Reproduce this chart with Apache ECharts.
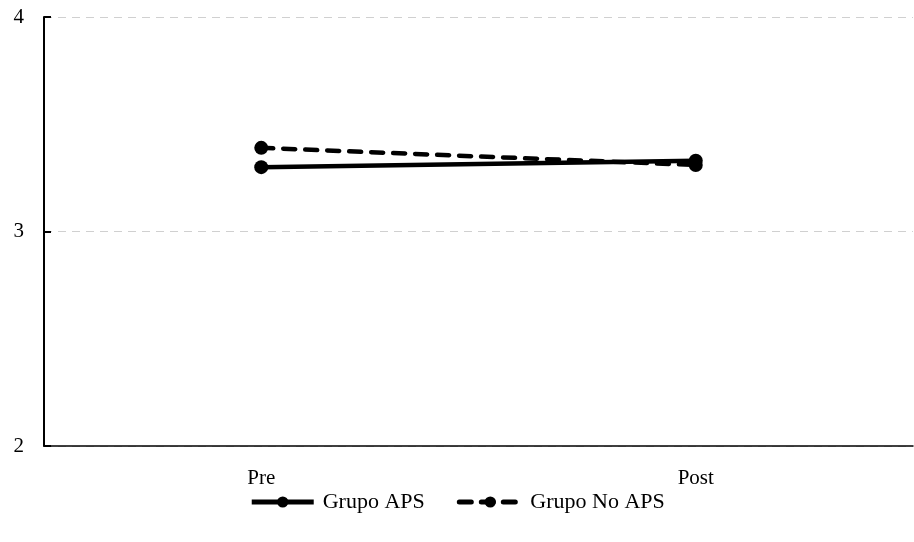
<!DOCTYPE html>
<html><head><meta charset="utf-8">
<script src="https://cdn.jsdelivr.net/npm/echarts@6/dist/echarts.min.js"></script>
<style>html,body{margin:0;padding:0;background:#fff}#c{width:914px;height:542px}</style>
</head><body><div id="c"></div>
<script>
const categories = ['Pre', 'Post'];
const grupoAPS = [3.30, 3.33];
const grupoNoAPS = [3.39, 3.31];
const yTicks = [2, 3, 4];

const chart = echarts.init(document.getElementById('c'));
const font = 'Liberation Serif';
chart.setOption({
  animation: false,
  grid: {left: 44, right: 1, top: 17, bottom: 96, containLabel: false},
  xAxis: {
    type: 'category', data: categories, boundaryGap: true,
    axisLine: {lineStyle: {color: '#000', width: 1.5}},
    axisTick: {show: false},
    axisLabel: {color: '#000', fontFamily: font, fontSize: 21, margin: 22}
  },
  yAxis: {
    type: 'value', min: 2, max: 4, interval: 1,
    axisLine: {show: true, lineStyle: {color: '#000', width: 2}},
    axisTick: {show: true, inside: true, length: 7, lineStyle: {color: '#000', width: 2}},
    axisLabel: {color: '#000', fontFamily: font, fontSize: 21, margin: 20,
      formatter: v => yTicks.includes(v) ? String(v) : ''},
    splitLine: {show: true, lineStyle: {color: '#d0d0d0', type: [8, 6], width: 1.2}}
  },
  legend: {
    top: 486, left: 'center', itemWidth: 62, itemHeight: 14, itemGap: 32,
    lineStyle: {width: 5},
    textStyle: {color: '#000', fontFamily: font, fontSize: 22, padding: [0, 0, 0, 4]},
    data: ['Grupo APS', 'Grupo No APS']
  },
  series: [
    {name: 'Grupo APS', type: 'line', data: grupoAPS, symbol: 'circle', symbolSize: 14,
     lineStyle: {color: '#000', width: 4.5}, itemStyle: {color: '#000'}},
    {name: 'Grupo No APS', type: 'line', data: grupoNoAPS, symbol: 'circle', symbolSize: 14,
     lineStyle: {color: '#000', width: 4.5, type: [12, 10], cap: 'round'}, itemStyle: {color: '#000'}}
  ]
});
</script></body></html>
